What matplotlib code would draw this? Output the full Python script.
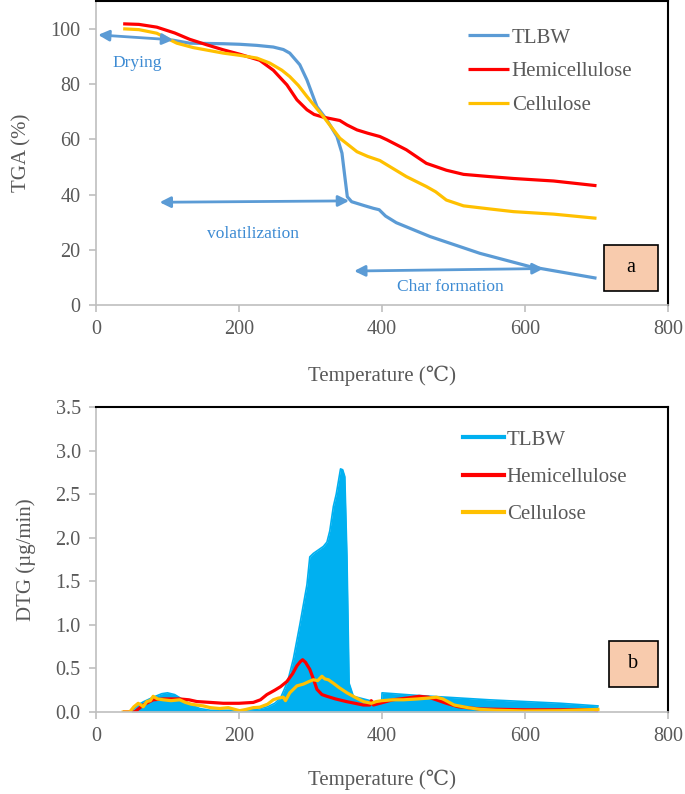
import matplotlib
matplotlib.use("Agg")
import matplotlib.pyplot as plt
from matplotlib.patches import Rectangle

plt.rcParams['font.family'] = ['Liberation Serif', 'DejaVu Serif']

# ---------------- data: TGA (panel a) ----------------
t_tlbw = [105, 131, 178, 201, 225, 248, 262, 271, 285, 295, 309, 323, 337, 344, 348, 351.5,
          357.5, 375, 388, 396, 405, 420, 467, 537, 607, 700]
tga_tlbw = [96.0, 94.8, 94.6, 94.4, 94.0, 93.4, 92.5, 91.2, 87.0, 81.5, 71.8, 67.0, 61.0,
            55.0, 46.5, 39.2, 37.4, 36.0, 35.0, 34.5, 32.2, 29.8, 24.8, 18.7, 13.9, 9.7]

t_hemi = [38, 60, 85, 110, 131, 155, 178, 201, 229, 248, 267, 281, 295, 305, 318, 341, 351, 365,
          380, 397, 407, 434, 462, 490, 514, 550, 584, 640, 700]
tga_hemi = [101.8, 101.6, 100.6, 98.5, 96.2, 94.2, 92.4, 90.8, 88.6, 85.0, 79.7, 74.3, 70.7, 69.0,
            68.0, 66.8, 65.2, 63.4, 62.2, 61.0, 59.8, 56.2, 51.3, 48.8, 47.3, 46.5, 45.8, 44.9, 43.2]

t_cell = [38, 60, 85, 113, 136, 178, 201, 225, 243, 260, 271, 283, 295, 318, 341, 365, 380, 397,
          434, 462, 475, 490, 514, 550, 584, 640, 700]
tga_cell = [100.0, 99.7, 98.4, 94.8, 93.2, 91.2, 90.4, 89.4, 87.6, 85.0, 82.7, 79.5, 75.5, 68.2,
            60.4, 55.5, 53.8, 52.3, 46.5, 42.9, 41.0, 38.0, 35.9, 34.8, 33.8, 32.9, 31.4]

# ---------------- data: DTG (panel b) ----------------
dt_tlbw = [49, 58, 67, 80, 92, 100, 110, 122, 134, 145, 160, 200, 225, 240, 250, 258, 268, 276,
           285, 295, 299, 304, 318, 323, 327, 332, 336, 342, 345, 348, 351, 354, 360, 379, 397,
           399.5, 400, 450, 550, 650, 702]
dtg_tlbw = [0.0, 0.08, 0.12, 0.17, 0.21, 0.22, 0.2, 0.14, 0.08, 0.04, 0.02, 0.02, 0.03, 0.06, 0.1,
            0.16, 0.35, 0.61, 1.0, 1.46, 1.78, 1.82, 1.9, 1.95, 2.08, 2.36, 2.5, 2.79, 2.78, 2.7,
            1.78, 0.33, 0.18, 0.14, 0.1, 0.1, 0.22, 0.19, 0.14, 0.1, 0.07]

dt_hemi = [40, 54, 60, 66, 73, 80, 95, 117, 130, 141, 160, 178, 200, 220, 230, 239, 250, 258, 267,
           275, 281, 286, 289, 293, 299, 304, 309, 316, 323, 335, 350, 362, 374, 383, 385, 388,
           397, 415, 435, 452, 465, 476, 490, 507, 537, 600, 698, 700]
dtg_hemi = [0, 0, 0.04, 0.08, 0.11, 0.14, 0.15, 0.15, 0.14, 0.12, 0.11, 0.1, 0.1, 0.11, 0.14, 0.2,
            0.25, 0.29, 0.35, 0.44, 0.53, 0.58, 0.6, 0.57, 0.49, 0.38, 0.26, 0.2, 0.18, 0.15, 0.12,
            0.1, 0.08, 0.08, 0.13, 0.08, 0.1, 0.14, 0.16, 0.18, 0.17, 0.14, 0.1, 0.06, 0.035, 0.025,
            0.025, 0.0]

dt_cell = [38, 47, 53, 59, 63, 66, 71, 76, 80, 86, 94, 105, 117, 125, 133, 141, 150, 160, 173, 185,
           201, 210, 220, 229, 240, 248, 255, 262, 265, 271, 276, 281, 290, 298, 304, 310, 316, 320,
           325, 332, 340, 351, 362, 374, 385, 392, 400, 415, 430, 450, 465, 476, 485, 501, 520, 537,
           560, 598, 650, 702]
dtg_cell = [0, 0, 0.06, 0.1, 0.08, 0.06, 0.12, 0.13, 0.18, 0.15, 0.14, 0.13, 0.14, 0.11, 0.09, 0.08,
            0.07, 0.05, 0.04, 0.05, 0.015, 0.03, 0.05, 0.055, 0.09, 0.14, 0.16, 0.17, 0.13, 0.22,
            0.26, 0.3, 0.32, 0.35, 0.37, 0.36, 0.41, 0.38, 0.37, 0.33, 0.28, 0.22, 0.17, 0.12, 0.1,
            0.12, 0.13, 0.14, 0.14, 0.15, 0.16, 0.17, 0.15, 0.08, 0.05, 0.03, 0.02, 0.012, 0.015,
            0.03]

labels = ["TLBW", "Hemicellulose", "Cellulose"]
x_ticks = [0, 200, 400, 600, 800]
tga_ticks = [0, 20, 40, 60, 80, 100]
dtg_ticks = [0.0, 0.5, 1.0, 1.5, 2.0, 2.5, 3.0, 3.5]

# ---------------- styling ----------------
C_BLUE = "#5b9bd5"
C_FILL = "#00b0f0"
C_RED = "#ff0000"
C_ORANGE = "#ffc000"
C_GRAY = "#595959"
C_SPINE = "#bfbfbf"
C_ANN = "#3d8bd3"
FS = 14.5

W, H = 685, 794
fig = plt.figure(figsize=(W / 100, H / 100), dpi=100)
L, R = 96 / W, 668 / W
ax1 = fig.add_axes([L, 1 - 305 / H, R - L, 305 / H - 0.0015])
ax2 = fig.add_axes([L, 1 - 712 / H, R - L, (712 - 407) / H])


def style(ax, lpad):
    ax.spines['left'].set_color(C_SPINE)
    ax.spines['bottom'].set_color(C_SPINE)
    ax.spines['left'].set_linewidth(1.2)
    ax.spines['bottom'].set_linewidth(1.2)
    ax.spines['top'].set_color('black')
    ax.spines['right'].set_color('black')
    ax.spines['top'].set_linewidth(1.5)
    ax.spines['right'].set_linewidth(1.5)
    ax.tick_params(axis='both', direction='out', length=5, width=1.2, color=C_SPINE,
                   labelcolor=C_GRAY, labelsize=FS, pad=6)
    ax.set_xlim(0, 800)
    ax.set_xticks(x_ticks)
    ax.set_xlabel("Temperature (℃)", fontsize=FS + 0.5, color=C_GRAY, labelpad=lpad)


# ---------------- panel a ----------------
style(ax1, 19)
ax1.plot(t_tlbw, tga_tlbw, color=C_BLUE, lw=2.3, label=labels[0], solid_capstyle='butt')
ax1.plot(t_hemi, tga_hemi, color=C_RED, lw=2.3, label=labels[1], solid_capstyle='butt')
ax1.plot(t_cell, tga_cell, color=C_ORANGE, lw=2.3, label=labels[2], solid_capstyle='butt')
ax1.set_ylim(0, 110)
ax1.set_yticks(tga_ticks)
ax1.set_ylabel("TGA (%)", fontsize=FS + 0.5, color=C_GRAY, labelpad=14)
ax1.legend(loc='upper left', bbox_to_anchor=((468 - 96) / 572, 1 - 27 / 305), frameon=False,
           fontsize=FS + 0.5, handlelength=1.95, handletextpad=0.15, labelspacing=0.68,
           borderpad=0, borderaxespad=0, labelcolor=C_GRAY)

arrow_kw = dict(arrowstyle='<|-|>', color=C_BLUE, lw=2, mutation_scale=16, shrinkA=0, shrinkB=0)
ax1.annotate('', xy=(108, 96.0), xytext=(3, 97.8), arrowprops=arrow_kw)
ax1.annotate('', xy=(354, 37.7), xytext=(89, 37.2), arrowprops=arrow_kw)
ax1.annotate('', xy=(626, 13.2), xytext=(361, 12.3), arrowprops=arrow_kw)
ax1.text(58, 87.8, "Drying", color=C_ANN, fontsize=12.5, ha='center', va='center')
ax1.text(220, 25.7, "volatilization", color=C_ANN, fontsize=12.5, ha='center', va='center')
ax1.text(495, 6.4, "Char formation", color=C_ANN, fontsize=12.5, ha='center', va='center')
ax1.add_patch(Rectangle((711, 5.1), 75, 16.6, facecolor="#f8cbad", edgecolor="black", lw=1.2,
                        zorder=5))
ax1.text(748.5, 13.4, "a", fontsize=FS, ha='center', va='center', color='black', zorder=6)

# ---------------- panel b ----------------
style(ax2, 17)
ax2.fill_between(dt_tlbw, 0, dtg_tlbw, color=C_FILL, lw=0)
ax2.plot(dt_tlbw, dtg_tlbw, color=C_FILL, lw=1.2, label=labels[0])
ax2.plot(dt_hemi, dtg_hemi, color=C_RED, lw=2.3, label=labels[1])
ax2.plot(dt_cell, dtg_cell, color=C_ORANGE, lw=2.3, label=labels[2])
ax2.set_ylim(0, 3.5)
ax2.set_yticks(dtg_ticks)
ax2.set_yticklabels([f"{v:.1f}" for v in dtg_ticks])
ax2.set_ylabel("DTG (µg/min)", fontsize=FS + 0.5, color=C_GRAY, labelpad=14)
leg2 = ax2.legend(loc='upper left', bbox_to_anchor=((463 - 96) / 572, 1 - (430 - 407) / 305),
                  frameon=False, fontsize=FS + 0.5, handlelength=1.95, handletextpad=0.15,
                  labelspacing=0.85, borderpad=0, borderaxespad=0, labelcolor=C_GRAY)
for h in leg2.get_lines():
    h.set_linewidth(3)
ax2.add_patch(Rectangle((717, 0.29), 69, 0.53, facecolor="#f8cbad", edgecolor="black", lw=1.2,
                        zorder=5))
ax2.text(751.5, 0.555, "b", fontsize=FS, ha='center', va='center', color='black', zorder=6)

fig.savefig("out.png", dpi=100)
